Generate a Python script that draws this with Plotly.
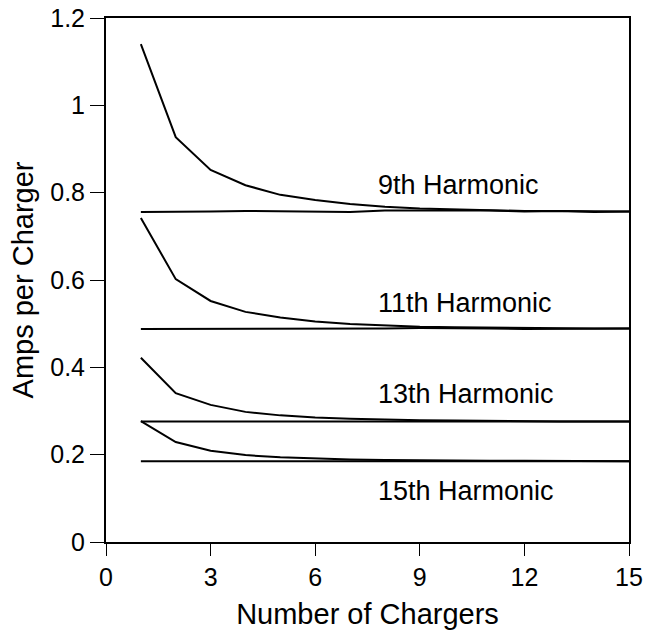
import plotly.graph_objects as go

chargers = list(range(1, 16))

h9_single = [1.140, 0.927, 0.852, 0.817, 0.795, 0.783, 0.774, 0.768, 0.764, 0.762, 0.760, 0.758, 0.758, 0.757, 0.757]
h9_multi = [0.756, 0.756, 0.757, 0.758, 0.757, 0.757, 0.756, 0.759, 0.759, 0.760, 0.759, 0.757, 0.758, 0.756, 0.757]

h11_single = [0.742, 0.602, 0.552, 0.527, 0.514, 0.505, 0.499, 0.496, 0.493, 0.492, 0.491, 0.490, 0.490, 0.489, 0.489]
h11_multi = [0.488, 0.488, 0.489, 0.489, 0.489, 0.489, 0.488, 0.489, 0.490, 0.490, 0.489, 0.488, 0.488, 0.488, 0.489]

h13_single = [0.422, 0.341, 0.314, 0.298, 0.290, 0.285, 0.282, 0.280, 0.279, 0.278, 0.277, 0.277, 0.276, 0.276, 0.276]
h13_multi = [0.276, 0.276, 0.276, 0.276, 0.276, 0.276, 0.276, 0.276, 0.276, 0.276, 0.276, 0.275, 0.275, 0.275, 0.276]

h15_single = [0.277, 0.229, 0.209, 0.199, 0.194, 0.191, 0.189, 0.188, 0.187, 0.187, 0.186, 0.186, 0.186, 0.185, 0.185]
h15_multi = [0.185, 0.185, 0.185, 0.185, 0.185, 0.185, 0.185, 0.185, 0.185, 0.185, 0.185, 0.185, 0.185, 0.185, 0.185]

labels = ["9th Harmonic", "11th Harmonic", "13th Harmonic", "15th Harmonic"]
label_y = [0.817, 0.548, 0.340, 0.116]
label_x = 7.75

x_ticks = [0, 3, 6, 9, 12, 15]
y_ticks = [0, 0.2, 0.4, 0.6, 0.8, 1, 1.2]

FONT = "Liberation Sans, Arial, sans-serif"

fig = go.Figure()
for series in [h9_single, h9_multi, h11_single, h11_multi, h13_single, h13_multi, h15_single, h15_multi]:
    fig.add_trace(go.Scatter(x=chargers, y=series, mode="lines",
                             line=dict(color="black", width=2), showlegend=False))

for txt, yy in zip(labels, label_y):
    fig.add_annotation(x=label_x, y=yy, text=txt, showarrow=False,
                       xanchor="left", yanchor="middle",
                       font=dict(family=FONT, size=27, color="black"))

fig.update_layout(
    width=648, height=640,
    margin=dict(l=106, r=19, t=18, b=98, autoexpand=False),
    plot_bgcolor="white", paper_bgcolor="white",
    font=dict(family=FONT, size=24, color="black"),
    showlegend=False,
)
fig.update_xaxes(range=[0, 15], tickvals=x_ticks, ticks="outside", ticklen=12,
                 tickwidth=1, tickcolor="black", showline=True, linewidth=2,
                 linecolor="black", mirror=True, showgrid=False, zeroline=False,
                 automargin=False,
                 title=dict(text="Number of Chargers", standoff=14),
                 tickfont=dict(size=25))
fig.update_yaxes(range=[0, 1.2], tickvals=y_ticks, ticks="outside", ticklen=14,
                 tickwidth=1, tickcolor="black", showline=True, linewidth=2,
                 linecolor="black", mirror=True, showgrid=False, zeroline=False,
                 automargin=False,
                 title=dict(text="Amps per Charger", standoff=8),
                 tickfont=dict(size=25))

fig.write_html("out.html")
